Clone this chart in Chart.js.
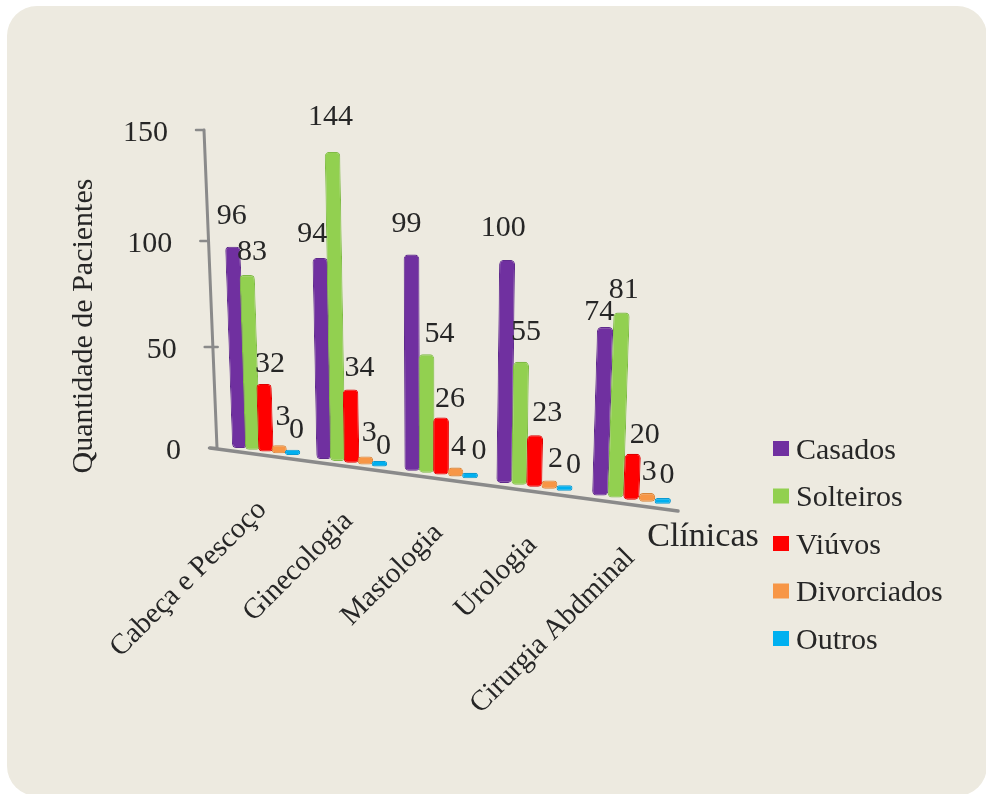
<!DOCTYPE html>
<html>
<head>
<meta charset="utf-8">
<script src="https://cdn.jsdelivr.net/npm/chart.js@4"></script>
<style>
  html, body { margin: 0; padding: 0; background: #fff; overflow: hidden; }
  #card { position: absolute; left: 7px; top: 6px; width: 980px; height: 790px; border-radius: 30px; background: #edeae0; }
  #myChart { position: absolute; left: 0; top: 0; }
</style>
</head>
<body>
<div id="card"></div>
<canvas id="myChart" width="986" height="794"></canvas>
<script>
const categories = ["Cabeça e Pescoço", "Ginecologia", "Mastologia", "Urologia", "Cirurgia Abdminal"];
const casados = [96, 94, 99, 100, 74];
const solteiros = [83, 144, 54, 55, 81];
const viuvos = [32, 34, 26, 23, 20];
const divorciados = [3, 3, 4, 2, 3];
const outros = [0, 0, 0, 0, 0];

const seriesNames = ["Casados", "Solteiros", "Viúvos", "Divorciados", "Outros"];
const seriesColors = ["#7030a0", "#92d050", "#ff0000", "#f79646", "#00b0f0"];
const seriesEdges = ["#5f2a8c", "#7fbb45", "#e00000", "#d98438", "#0a9ad2"];

// where each value label sits relative to the top of its bar
const labelNudge = [
  [[-1, -32], [-8, -25], [-5, -31], [-4, -33], [-6, -16]],
  [[5, -24], [-2, -36], [13, -21], [5, -31], [2, -23]],
  [[6, -21], [9, -22], [9, -19], [12, -23], [12, -20]],
  [[4, -29], [4, -24], [3, -21], [6, -22], [2, -22]],
  [[4, -21], [4, -16], [9, -23], [9, -21], [4, -24]]
];

const FONT = '"Liberation Serif", serif';
const INK = "#262626";
const AXIS = "#8a8a8a";
const CAT_W = 90; // plot width of one category, before projection

// the "3D" look: a bar's spot on the floor, its lean and its height change with depth
const floorX = t => 266 + 85.6 * t + 1.9 * t * (t - 1);
const floorStretch = t => 1 + ((85.6 + 1.9 * (2 * t - 1)) / CAT_W - 1) * 0.4;
const floorY = x => 448 + (x - 240) * 0.132;
const leanAt = x => -0.035 + (x - 240) * 0.00018;
const pxPerUnit = x => 2.11 + (x - 266) * 0.0005;
const wallX = v => 217 - v * (0.0867);
const wallY = v => 448 - v * (1.97 + 0.001 * v);

const projection = {
  id: "projection",
  beforeDatasetsDraw(chart) {
    const ctx = chart.ctx;
    const yScale = chart.scales.y;
    const unit = yScale.getPixelForValue(0) - yScale.getPixelForValue(1);
    const first = chart.chartArea.left + CAT_W / 2;

    // axes
    ctx.save();
    ctx.strokeStyle = AXIS;
    ctx.lineCap = "round";
    ctx.lineWidth = 3;
    ctx.beginPath();
    ctx.moveTo(wallX(0), wallY(0));
    ctx.lineTo(wallX(150), wallY(150));
    ctx.stroke();
    ctx.lineWidth = 2.5;
    ctx.fillStyle = INK;
    ctx.font = "30px " + FONT;
    ctx.textAlign = "right";
    ctx.textBaseline = "middle";
    yScale.ticks.forEach(tick => {
      const x = wallX(tick.value), y = wallY(tick.value);
      ctx.beginPath();
      ctx.moveTo(x - 8, y);
      ctx.lineTo(x + (tick.value === 50 ? 5 : 0), y);
      ctx.stroke();
      ctx.fillText(String(tick.value), x - 36, y + 3);
    });
    ctx.lineWidth = 3.5;
    ctx.beginPath();
    ctx.moveTo(210, wallY(0));
    ctx.lineTo(678, 511);
    ctx.stroke();
    ctx.restore();

    // bars, one transform per element
    const tops = [];
    chart.data.datasets.forEach((ds, i) => {
      chart.getDatasetMeta(i).data.forEach((el, j) => {
        const t = (el.x - first) / CAT_W;
        const X = floorX(t), Y = floorY(X);
        const k = leanAt(X);
        const d = pxPerUnit(X) / unit;
        const a = floorStretch(t);
        ctx.save();
        ctx.transform(a, 0, -k * d, d, X - a * el.x + k * d * el.base, Y - d * el.base);
        el.draw(ctx);
        ctx.restore();
        const h = d * (el.base - el.y);
        tops.push({ x: X + k * h, y: Y - h, text: ds.data[j], nudge: labelNudge[i][j] });
      });
    });

    // value labels
    ctx.save();
    ctx.fillStyle = INK;
    ctx.font = "30px " + FONT;
    ctx.textAlign = "center";
    ctx.textBaseline = "middle";
    tops.forEach(p => ctx.fillText(String(p.text), p.x + p.nudge[0], p.y + p.nudge[1] + 1));
    ctx.restore();

    // category labels hang off the floor at 45 degrees
    ctx.save();
    ctx.fillStyle = INK;
    ctx.font = "29px " + FONT;
    ctx.textAlign = "right";
    ctx.textBaseline = "middle";
    categories.forEach((name, i) => {
      const X = floorX(i);
      ctx.save();
      ctx.translate(X - 4 + 0.75 * i, floorY(X) + 54);
      ctx.rotate(-45 * Math.PI / 180);
      ctx.fillText(name, 0, 0);
      ctx.restore();
    });
    ctx.restore();

    // axis titles
    ctx.save();
    ctx.fillStyle = INK;
    ctx.textAlign = "center";
    ctx.textBaseline = "middle";
    ctx.font = "30px " + FONT;
    ctx.save();
    ctx.translate(84, 326);
    ctx.rotate(-Math.PI / 2);
    ctx.fillText("Quantidade de Pacientes", 0, 0);
    ctx.restore();
    ctx.font = "34px " + FONT;
    ctx.fillText("Clínicas", 703, 537);
    ctx.restore();

    // legend
    ctx.save();
    ctx.font = "30px " + FONT;
    ctx.textAlign = "left";
    ctx.textBaseline = "middle";
    chart.data.datasets.forEach((ds, i) => {
      const y = 449 + i * 47.5;
      ctx.fillStyle = ds.backgroundColor;
      ctx.fillRect(773, y - 8, 16, 15);
      ctx.fillStyle = INK;
      ctx.fillText(ds.label, 796, y + 2);
    });
    ctx.restore();

    return false;
  }
};

const series = [casados, solteiros, viuvos, divorciados, outros];
const minLengths = [0, 0, 0, 7.5, 5];

new Chart("myChart", {
  type: "bar",
  data: {
    labels: categories,
    datasets: series.map((values, i) => ({
      label: seriesNames[i],
      data: values,
      backgroundColor: seriesColors[i],
      borderColor: seriesEdges[i],
      borderWidth: 1,
      borderSkipped: false,
      borderRadius: 4,
      minBarLength: minLengths[i]
    }))
  },
  plugins: [projection],
  options: {
    responsive: false,
    animation: false,
    layout: { padding: { left: 100, right: 436, top: 100, bottom: 394 } },
    categoryPercentage: 0.79,
    barPercentage: 1.1,
    plugins: { legend: { display: false }, tooltip: { enabled: false } },
    scales: {
      x: { display: false },
      y: { display: false, min: 0, max: 150, ticks: { stepSize: 50 } }
    }
  }
});
</script>
</body>
</html>
